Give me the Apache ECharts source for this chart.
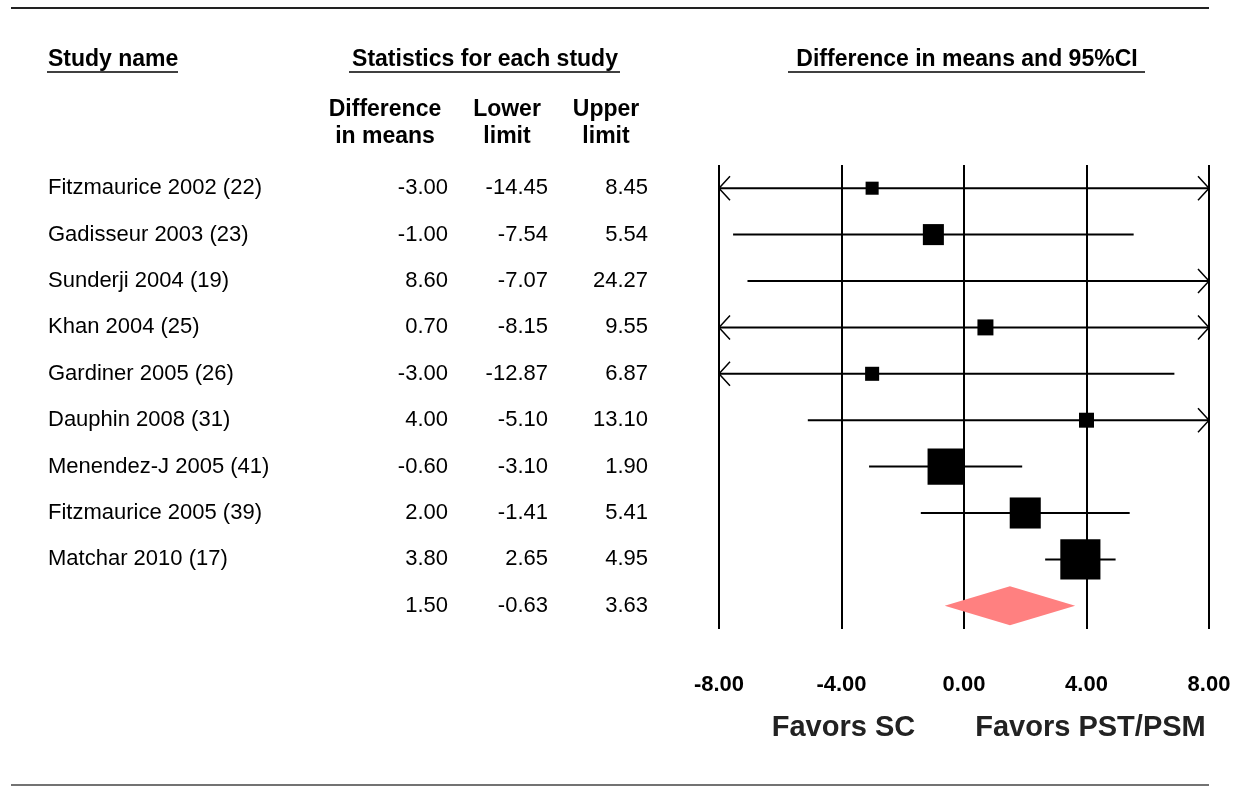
<!DOCTYPE html>
<html><head><meta charset="utf-8">
<script src="https://cdn.jsdelivr.net/npm/echarts@6/dist/echarts.min.js"></script>
<style>html,body{margin:0;padding:0;background:#fff}#c{width:1240px;height:787px}</style>
</head><body><div id="c"></div>
<script>
// ---------- DATA ----------
const studies = ['Fitzmaurice 2002 (22)','Gadisseur 2003 (23)','Sunderji 2004 (19)','Khan 2004 (25)','Gardiner 2005 (26)','Dauphin 2008 (31)','Menendez-J 2005 (41)','Fitzmaurice 2005 (39)','Matchar 2010 (17)'];
const diffMeans   = [-3.00,-1.00, 8.60, 0.70,-3.00, 4.00,-0.60, 2.00, 3.80];
const lowerLimits = [-14.45,-7.54,-7.07,-8.15,-12.87,-5.10,-3.10,-1.41, 2.65];
const upperLimits = [ 8.45, 5.54,24.27, 9.55, 6.87,13.10, 1.90, 5.41, 4.95];
const weights     = [ 3.2, 8.3, 2.0, 4.8, 3.7, 4.2,24.5,18.1,30.2]; // relative weight (%)
const summaryValues = [1.50,-0.63,3.63]; // difference, lower, upper
const tickValues = [-8,-4,0,4,8];
const favorsLabels = ['Favors SC','Favors PST/PSM'];
const headerStudy = 'Study name';
const headerStats = 'Statistics for each study';
const headerPlot = 'Difference in means and 95%CI';
const colHeaders = [['Difference','in means'],['Lower','limit'],['Upper','limit']];

// ---------- LAYOUT ----------
const FONT = '"Liberation Sans", Arial, sans-serif';
const colX = {name:48, diff:448, lower:548, upper:648, diffC:385, lowerC:507, upperC:606};
const nRows = studies.length + 1;
const axMin = tickValues[0], axMax = tickValues[tickValues.length-1];

const chart = echarts.init(document.getElementById('c'), null, {renderer:'canvas'});

const forestData = studies.map((s,i)=>[diffMeans[i], i, lowerLimits[i], upperLimits[i], weights[i]]);
const summaryData = [[summaryValues[0], studies.length, summaryValues[1], summaryValues[2]]];

const fmt = v => v.toFixed(2);
const tableData = [];
studies.forEach((s,i)=>{
  tableData.push([colX.name, i, s, 'left']);
  tableData.push([colX.diff, i, fmt(diffMeans[i]), 'right']);
  tableData.push([colX.lower, i, fmt(lowerLimits[i]), 'right']);
  tableData.push([colX.upper, i, fmt(upperLimits[i]), 'right']);
});
tableData.push([colX.diff, studies.length, fmt(summaryValues[0]), 'right']);
tableData.push([colX.lower, studies.length, fmt(summaryValues[1]), 'right']);
tableData.push([colX.upper, studies.length, fmt(summaryValues[2]), 'right']);

function forestItem(params, api){
  const mean = api.value(0), row = api.value(1), lo = api.value(2), hi = api.value(3), w = api.value(4);
  const loC = Math.max(lo, axMin), hiC = Math.min(hi, axMax);
  const p1 = api.coord([loC, row]), p2 = api.coord([hiC, row]);
  const children = [{type:'line', shape:{x1:p1[0],y1:p1[1],x2:p2[0],y2:p2[1]}, style:{stroke:'#000', lineWidth:2}}];
  if (lo < axMin) children.push({type:'polyline', shape:{points:[[p1[0]+11,p1[1]-12],[p1[0],p1[1]],[p1[0]+11,p1[1]+12]]}, style:{stroke:'#000', lineWidth:1.5, fill:null}});
  if (hi > axMax) children.push({type:'polyline', shape:{points:[[p2[0]-11,p2[1]-12],[p2[0],p2[1]],[p2[0]-11,p2[1]+12]]}, style:{stroke:'#000', lineWidth:1.5, fill:null}});
  if (mean >= axMin && mean <= axMax){
    const c = api.coord([mean,row]);
    const s = Math.sqrt(w) * 7.3;
    children.push({type:'rect', shape:{x:c[0]-s/2, y:c[1]-s/2, width:s, height:s}, style:{fill:'#000'}});
  }
  return {type:'group', children};
}
function diamondItem(params, api){
  const mean = api.value(0), row = api.value(1), lo = api.value(2), hi = api.value(3);
  const a = api.coord([lo,row]), b = api.coord([mean,row]), c = api.coord([hi,row]);
  const h = 19.5;
  return {type:'polygon', shape:{points:[[a[0],a[1]],[b[0],b[1]-h],[c[0],c[1]],[b[0],b[1]+h]]}, style:{fill:'#ff8080'}};
}
function tableItem(params, api){
  const d = tableData[params.dataIndex];
  const p = api.coord([d[0], d[1]]);
  return {type:'text', x:p[0], y:p[1], style:{text:d[2], fill:'#000', font:'22px '+FONT, align:d[3], textAlign:d[3], verticalAlign:'middle', textVerticalAlign:'middle'}};
}

const graphics = [];
graphics.push({type:'line', shape:{x1:11,y1:8,x2:1209,y2:8}, style:{stroke:'#222', lineWidth:2}});
graphics.push({type:'line', shape:{x1:11,y1:785,x2:1209,y2:785}, style:{stroke:'#444', lineWidth:1.5}});
function hdr(text, x, y, align, size, weight){
  graphics.push({type:'text', x, y, style:{text, fill:'#000', font:(weight||'bold')+' '+size+'px '+FONT, align, textAlign:align, verticalAlign:'middle', textVerticalAlign:'middle'}});
}
hdr(headerStudy, 48, 60, 'left', 23);
graphics.push({type:'line', shape:{x1:47,y1:72,x2:178,y2:72}, style:{stroke:'#000', lineWidth:1.5}});
hdr(headerStats, 485, 60, 'center', 23);
graphics.push({type:'line', shape:{x1:349,y1:72,x2:620,y2:72}, style:{stroke:'#000', lineWidth:1.5}});
hdr(headerPlot, 967, 60, 'center', 23);
graphics.push({type:'line', shape:{x1:788,y1:72,x2:1145,y2:72}, style:{stroke:'#000', lineWidth:1.5}});
[colX.diffC, colX.lowerC, colX.upperC].forEach((x,k)=>{
  hdr(colHeaders[k][0], x, 110, 'center', 23);
  hdr(colHeaders[k][1], x, 137, 'center', 23);
});

const option = {
  backgroundColor:'#fff',
  animation:false,
  grid:[
    {left:719, right:31, top:165, height:464},
    {left:0, width:700, top:165, height:464}
  ],
  xAxis:[
    {gridIndex:0, type:'value', min:axMin, max:axMax, interval:4,
     axisLine:{show:false}, axisTick:{show:false},
     splitLine:{show:true, lineStyle:{color:'#000', width:2}},
     axisLabel:{formatter:fmt, color:'#000', fontWeight:'bold', fontSize:22, fontFamily:FONT, margin:45}},
    {gridIndex:1, type:'value', min:0, max:700, show:false, splitLine:{show:false}}
  ],
  yAxis:[
    {gridIndex:0, type:'value', min:-0.5, max:nRows-0.5, inverse:true, show:false, splitLine:{show:false}},
    {gridIndex:1, type:'value', min:-0.5, max:nRows-0.5, inverse:true, show:false, splitLine:{show:false}}
  ],
  graphic: graphics,
  series:[
    {type:'custom', xAxisIndex:0, yAxisIndex:0, renderItem:forestItem, data:forestData, encode:{x:[0,2,3], y:1}, clip:false},
    {type:'custom', xAxisIndex:0, yAxisIndex:0, renderItem:diamondItem, data:summaryData, encode:{x:[0,2,3], y:1}, clip:false},
    {type:'custom', xAxisIndex:1, yAxisIndex:1, renderItem:tableItem, data:tableData.map(d=>[d[0],d[1]]), encode:{x:0,y:1}, clip:false}
  ]
};
chart.setOption(option);
// Favors labels placed under the -4 and +4 ticks via the axis scale
const pl = chart.convertToPixel({xAxisIndex:0}, tickValues[1]);
const pr = chart.convertToPixel({xAxisIndex:0}, tickValues[3]);
chart.setOption({graphic: graphics.concat([
  {type:'text', x:pl+2, y:728, style:{text:favorsLabels[0], fill:'#222', font:'bold 29px '+FONT, align:'center', textAlign:'center', verticalAlign:'middle', textVerticalAlign:'middle'}},
  {type:'text', x:pr+4, y:728, style:{text:favorsLabels[1], fill:'#222', font:'bold 29px '+FONT, align:'center', textAlign:'center', verticalAlign:'middle', textVerticalAlign:'middle'}}
])});
</script>
</body></html>
